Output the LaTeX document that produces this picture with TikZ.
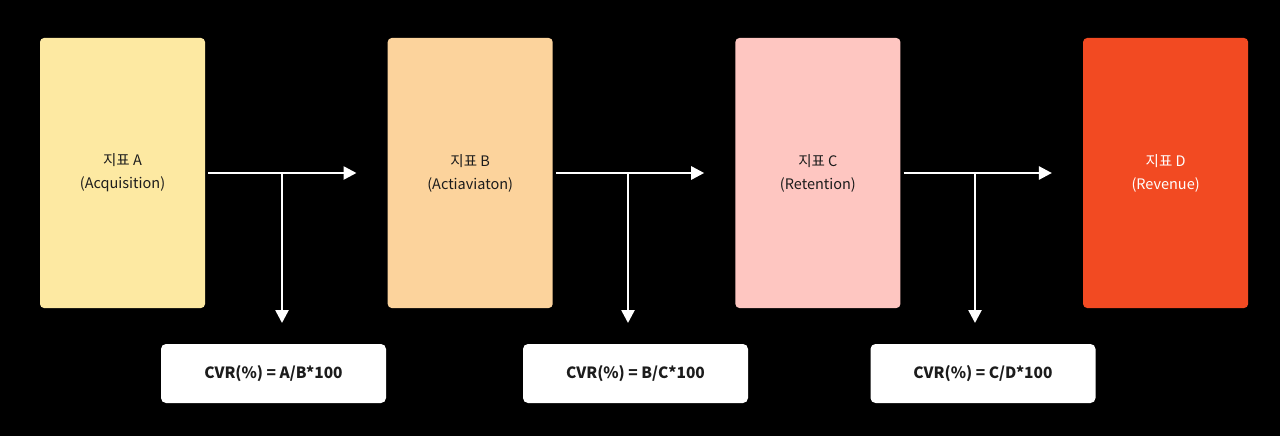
\documentclass[tikz,border=0pt]{standalone}
\usepackage{fontspec}
\setmainfont{Noto Sans CJK KR}
\usepackage{tikz}
\usetikzlibrary{arrows.meta, positioning, calc}
\definecolor{metA}{HTML}{FDE9A2}
\definecolor{metB}{HTML}{FCD39C}
\definecolor{metC}{HTML}{FEC6C1}
\definecolor{metD}{HTML}{F24A22}
\definecolor{inkdark}{HTML}{1C1C1C}
\tikzstyle{metric} = [rectangle, rounded corners=4pt, minimum width=165pt, minimum height=270pt, text centered, align=center, inner sep=0pt, font=\fontsize{14.5}{23}\selectfont, text=inkdark]
\tikzstyle{formula} = [rectangle, rounded corners=5pt, minimum width=225pt, minimum height=59pt, text centered, fill=white, text=inkdark, font=\fontsize{15.5}{18}\selectfont\bfseries]
\tikzstyle{arrow} = [white, line width=2.6pt, -{Triangle[length=13pt,width=13pt]}]

\begin{document}
\begin{tikzpicture}[x=1pt, y=-1pt, node distance=182.3pt]
\useasboundingbox (0,0) rectangle (1280,436);
\fill[black] (0,0) rectangle (1280,436);

% metric boxes
\node (a) [metric, fill=metA] at (122.5,173) {지표 A\\(Acquisition)};
\node (b) [metric, fill=metB, right=of a] {지표 B\\(Actiaviaton)};
\node (c) [metric, fill=metC, right=of b] {지표 C\\(Retention)};
\node (d) [metric, fill=metD, right=of c, text=white] {지표 D\\(Revenue)};

% conversion formulas
\node (fa) [formula] at (273.5,373.5) {CVR(\%) = A/B*100};
\node (fb) [formula] at (635.5,373.5) {CVR(\%) = B/C*100};
\node (fc) [formula] at (983,373.5) {CVR(\%) = C/D*100};

% junctions and arrow ends
\coordinate (ja) at (282,173);
\coordinate (jb) at (628,173);
\coordinate (jc) at (975,173);
\coordinate (ea) at (282,323);
\coordinate (eb) at (628,323);
\coordinate (ec) at (975,323);

\draw [arrow] ([xshift=3pt]a.east) -- ([xshift=-31pt]b.west);
\draw [arrow] ([xshift=3pt]b.east) -- ([xshift=-31pt]c.west);
\draw [arrow] ([xshift=3pt]c.east) -- ([xshift=-31pt]d.west);
\draw [arrow] (ja) -- (ea);
\draw [arrow] (jb) -- (eb);
\draw [arrow] (jc) -- (ec);
\end{tikzpicture}
\end{document}
